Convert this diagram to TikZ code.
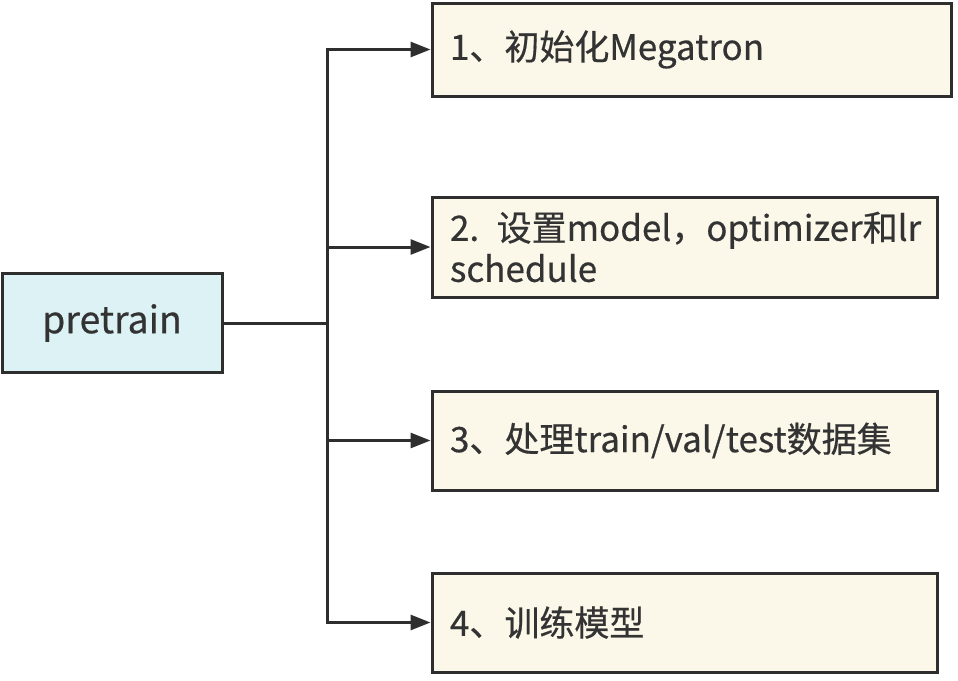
\documentclass[tikz,border=0pt]{standalone}
\usepackage{fontspec}
\setmainfont{Noto Sans CJK SC}[FakeBold=0.5]
\usetikzlibrary{arrows.meta}
\definecolor{ink}{HTML}{2E2E2E}
\definecolor{txt}{HTML}{333333}
\definecolor{cyanfill}{HTML}{DDF2F4}
\definecolor{creamfill}{HTML}{FBF8E9}
\begin{document}
\begin{tikzpicture}[x=1pt,y=-1pt,
  basebox/.style={draw=ink, line width=3pt, rectangle, inner xsep=18pt, inner ysep=0pt, text=txt, align=left},
  root/.style={basebox, fill=cyanfill, font=\fontsize{37.5}{42}\selectfont, align=center},
  stepbox/.style={basebox, fill=creamfill, font=\fontsize{35}{41}\selectfont},
  conn/.style={draw=ink, line width=3pt},
  arr/.style={conn, -{Triangle[length=20pt,width=15pt]}}]
\useasboundingbox (0,0) rectangle (958,680);
\fill[white] (0,0) rectangle (958,680);
\node[root, minimum width=220pt, minimum height=99pt] (pre) at (112,323) {pretrain};
\node[stepbox, text width=483pt, minimum height=93pt] (b1) at (691.5,49.5) {1、初始化Megatron};
\node[stepbox, text width=469pt, minimum height=100pt] (b2) at (684.5,247) {\mbox{2. 设置model，optimizer和lr}\\\mbox{schedule}};
\node[stepbox, text width=469pt, minimum height=99pt] (b3) at (684.5,440.5) {3、处理train/val/test数据集};
\node[stepbox, text width=469pt, minimum height=99pt] (b4) at (684.5,622.5) {4、训练模型};
\coordinate (j) at (327,323);
\draw[conn] (pre.east) -- (j);
\draw[arr] (j) |- (b1.west);
\draw[arr] (j) |- (b2.west);
\draw[arr] (j) |- (b3.west);
\draw[arr] (j) |- (b4.west);
\end{tikzpicture}
\end{document}
